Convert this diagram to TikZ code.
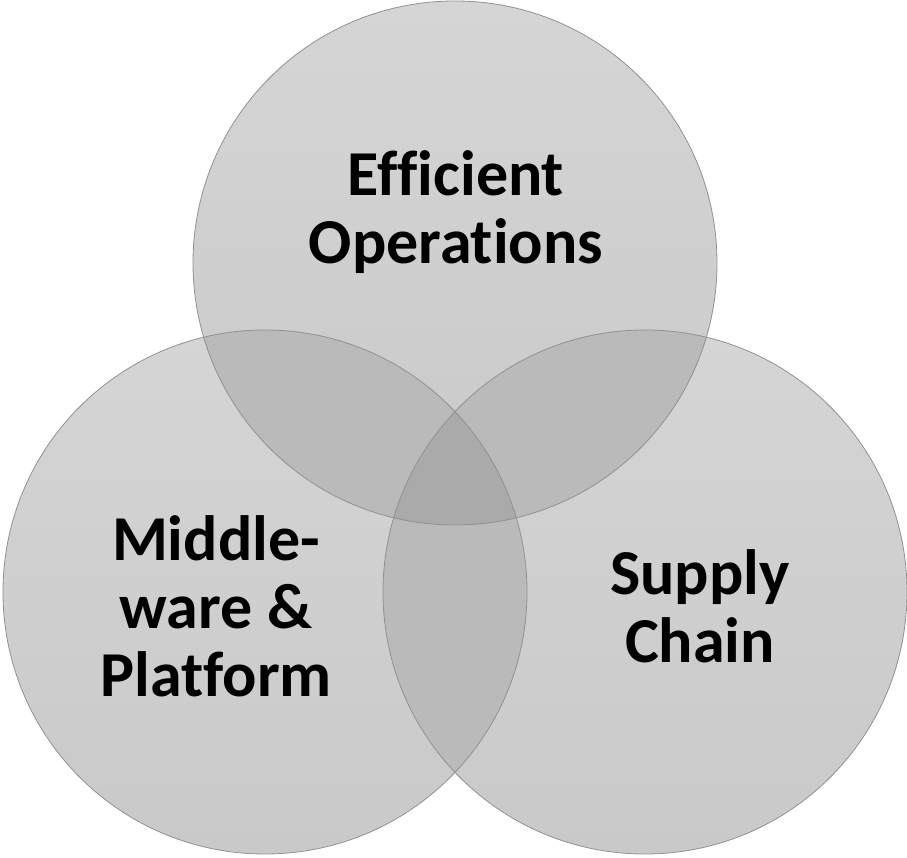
\documentclass[tikz,border=0pt]{standalone}
\usepackage{fontspec}
\setmainfont{Carlito}[Ligatures=NoCommon]
\usetikzlibrary{positioning}

\definecolor{onegray}{RGB}{213,213,213}
\definecolor{onegraylow}{RGB}{201,201,201}
\definecolor{twogray}{RGB}{186,186,186}
\definecolor{threegray}{RGB}{170,170,170}
\definecolor{edgegray}{RGB}{145,145,145}
\newcommand{\vennr}{262}

\begin{document}
\begin{tikzpicture}[x=1pt, y=1pt,
    ring/.style={draw=edgegray, line width=0.8pt},
    venntext/.style={font=\bfseries\fontsize{64}{68}\selectfont, align=center, text=black}]
    \useasboundingbox (0,0) rectangle (907,858);

    % circle centres
    \coordinate (ops) at (455,595);
    \coordinate (mid) at (265,266);
    \coordinate (sup) at (645,266);

    % single areas
    \foreach \c in {ops,mid,sup}
        \shade[top color=onegray, bottom color=onegraylow] (\c) circle[radius=\vennr];

    % pairwise overlaps
    \begin{scope}
        \clip (ops) circle[radius=\vennr];
        \fill[twogray] (mid) circle[radius=\vennr];
        \fill[twogray] (sup) circle[radius=\vennr];
    \end{scope}
    \begin{scope}
        \clip (mid) circle[radius=\vennr];
        \fill[twogray] (sup) circle[radius=\vennr];
    \end{scope}

    % middle part, all three
    \begin{scope}
        \clip (ops) circle[radius=\vennr];
        \clip (mid) circle[radius=\vennr];
        \fill[threegray] (sup) circle[radius=\vennr];
    \end{scope}

    % outlines
    \foreach \c in {ops,mid,sup}
        \draw[ring] (\c) circle[radius=\vennr];

    % labels
    \node[venntext] (opstext) at (456,646) {Efficient\\Operations};
    \node[venntext] (midtext) at (216,252) {Middle-\\ware \&\\Platform};
    \node[venntext] (suptext) at (700,252) {Supply\\Chain};
\end{tikzpicture}
\end{document}
